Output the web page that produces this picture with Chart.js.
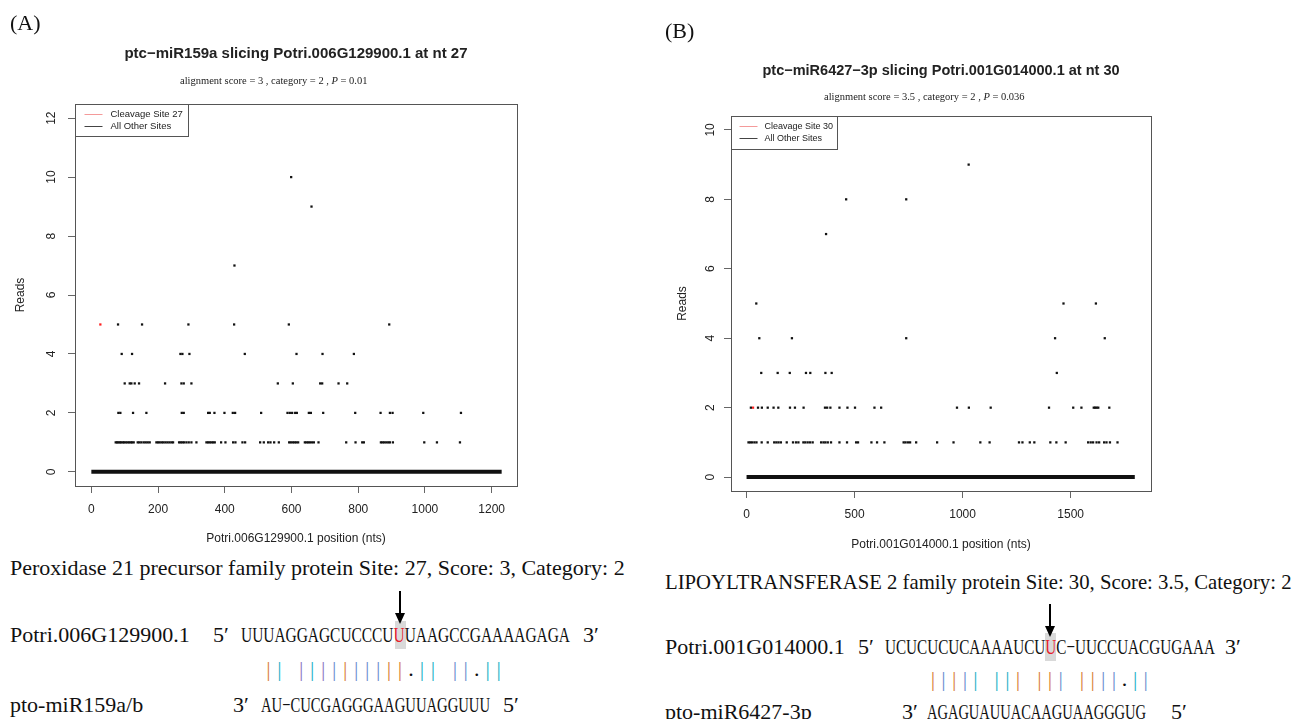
<!DOCTYPE html>
<html>
<head>
<meta charset="utf-8">
<script src="https://cdn.jsdelivr.net/npm/chart.js@4.4.0/dist/chart.umd.min.js"></script>
<style>
    body { margin: 0; background: #fff; }
    #page { position: relative; width: 1298px; height: 719px; overflow: hidden; color: #111;
            font-family: "Liberation Serif", "Times New Roman", serif; }
    .abs { position: absolute; white-space: nowrap; }
    canvas { position: absolute; }
    .ttl { font-family: "Liberation Sans", Arial, sans-serif; font-weight: bold; font-size: 15px; line-height: 16px; color: #222; }
    .sub { font-size: 10.5px; line-height: 12px; color: #222; }
    .big { font-size: 22px; line-height: 22px; }
    .seq { transform-origin: 0 50%; }
    .bar { font-size: 22px; line-height: 22px; transform: translateX(-50%); }
</style>
</head>
<body>
<div id="page">
    <canvas id="chartA" width="640" height="550" style="left:0;top:0"></canvas>
    <canvas id="chartB" width="648" height="556" style="left:650px;top:0"></canvas>

    <div class="abs big" style="left:10px;top:12px">(A)</div>
    <div class="abs ttl" id="titleA" style="top:45px">ptc−miR159a slicing Potri.006G129900.1 at nt 27</div>
    <div class="abs sub" style="left:180px;top:75px">alignment score = 3 , category = 2 , <i>P</i> = 0.01</div>

    <div class="abs big" style="left:665px;top:20px">(B)</div>
    <div class="abs ttl" id="titleB" style="top:62px;font-size:14.5px">ptc−miR6427−3p slicing Potri.001G014000.1 at nt 30</div>
    <div class="abs sub" style="left:824px;top:91px">alignment score = 3.5 , category = 2 , <i>P</i> = 0.036</div>

    <div id="alignA"></div>
    <div id="alignB"></div>
</div>

<script>
// ---- panel A: ptc-miR159a / Potri.006G129900.1 ----
const lenA = 1230;
const siteA = 27;
const siteReadsA = 5;
const aPos1 = [73, 77, 81, 85, 89, 94, 98, 103, 108, 113, 118, 122, 127, 139, 144, 150, 157, 163, 169, 175,
    195, 200, 205, 211, 216, 222, 228, 234, 240, 245, 263, 268, 273, 278, 285, 292, 300, 315,
    345, 350, 355, 360, 365, 370, 389, 402, 425, 432, 453, 461, 506, 517, 530, 537, 548, 562,
    593, 598, 604, 609, 614, 620, 640, 645, 650, 655, 661, 667, 681, 764, 792, 812, 817,
    868, 873, 878, 884, 890, 895, 904, 998, 1036, 1105];
const aPos2 = [81, 87, 125, 165, 271, 277, 350, 355, 369, 399, 424, 431, 509, 588, 595, 602, 611, 616,
    652, 658, 695, 791, 867, 895, 903, 995, 1108];
const aPos3 = [100, 115, 120, 130, 143, 221, 270, 277, 300, 559, 604, 686, 692, 741, 767];
const aPos4 = [91, 122, 267, 273, 294, 460, 615, 693, 787];
const aPos5 = [80, 152, 291, 428, 592, 893];
const aPos7 = [429];
const aPos9 = [660];
const aPos10 = [599];
const xTicksA = [0, 200, 400, 600, 800, 1000, 1200];
const yTicksA = [0, 2, 4, 6, 8, 10, 12];

// ---- panel B: ptc-miR6427-3p / Potri.001G014000.1 ----
const lenB = 1797;
const siteB = 30;
const siteReadsB = 2;
const bPos1 = [9, 17, 25, 36, 46, 70, 98, 128, 138, 148, 159, 186, 215, 229, 240, 263, 272, 283, 294, 306,
    345, 356, 365, 376, 391, 430, 465, 507, 516, 578, 604, 638, 727, 736, 747, 757, 785, 882, 958,
    1082, 1125, 1261, 1277, 1311, 1332, 1406, 1434, 1477, 1581, 1593, 1604, 1620, 1632, 1655, 1666, 1682, 1717];
const bPos2 = [20, 53, 71, 98, 125, 147, 201, 224, 264, 363, 373, 388, 430, 467, 502, 592, 623, 974, 1029,
    1130, 1400, 1512, 1550, 1607, 1614, 1620, 1628, 1679];
const bPos3 = [68, 144, 200, 275, 295, 365, 394, 1436];
const bPos4 = [59, 210, 739, 1428, 1658];
const bPos5 = [45, 1467, 1617];
const bPos7 = [368];
const bPos8 = [461, 739];
const bPos9 = [1028];
const xTicksB = [0, 500, 1000, 1500];
const yTicksB = [0, 2, 4, 6, 8, 10];

// ---- alignments ----
const targetA = 'UUUAGGAGCUCCCUUUAAGCCGAAAAGAGA';
const mirA = 'AU−CUCGAGGGAAGUUAGGUUU';
const pairsA = '|| ||||||||||.|| ||.||';
const pairStartA = 2;
const cutIdxA = 14;
const targetB = 'UCUCUCUCAAAAUCUUC−UUCCUACGUGAAA';
const mirB = 'AGAGUAUUACAAGUAAGGGUG';
const pairsB = '||||| ||| ||| ||||.||';
const pairStartB = 4;
const cutIdxB = 15;
const pairColors = { 'UA': '#d9823b', 'AU': '#29b3c8', 'GC': '#8e7cc3', 'CG': '#6d8fd0', 'UG': '#111', 'GU': '#111' };

function toPoints(list) {
    return list.flatMap(([reads, positions]) => positions.map(p => ({ x: p, y: reads })));
}

const framePlugin = {
    id: 'frame',
    afterDatasetsDraw(chart, args, opts) {
        const ctx = chart.ctx;
        const a = chart.chartArea;
        ctx.save();
        ctx.strokeStyle = '#555';
        ctx.lineWidth = 1;
        ctx.strokeRect(Math.round(a.left) + 0.5, Math.round(a.top) + 0.5, a.right - a.left, a.bottom - a.top);
        // legend box in the top-left corner
        const lg = opts.legend;
        const x0 = Math.round(a.left) + 0.5, y0 = Math.round(a.top) + 0.5;
        ctx.fillStyle = '#fff';
        ctx.fillRect(x0, y0, lg.w, lg.h);
        ctx.strokeRect(x0, y0, lg.w, lg.h);
        ctx.font = lg.font + ' "Liberation Sans", Arial, sans-serif';
        ctx.textBaseline = 'middle';
        lg.items.forEach((it, i) => {
            const y = y0 + lg.rows[i];
            ctx.strokeStyle = it.color;
            ctx.beginPath();
            ctx.moveTo(x0 + lg.line[0], y);
            ctx.lineTo(x0 + lg.line[1], y);
            ctx.stroke();
            ctx.fillStyle = '#222';
            ctx.fillText(it.text, x0 + lg.textX, y);
        });
        ctx.restore();
    }
};

function makeChart(id, c) {
    const axisFont = { family: '"Liberation Sans", Arial, sans-serif', size: 12 };
    return new Chart(document.getElementById(id), {
        type: 'scatter',
        data: {
            datasets: [
                {
                    type: 'line',
                    data: [{ x: 0, y: 0 }, { x: c.len, y: 0 }],
                    borderColor: '#111',
                    borderWidth: 4,
                    pointRadius: 0
                },
                {
                    data: c.points,
                    pointStyle: 'rect',
                    pointRadius: 1.6,
                    borderWidth: 0,
                    backgroundColor: '#111'
                },
                {
                    data: [{ x: c.site, y: c.siteReads }],
                    pointStyle: 'rect',
                    pointRadius: 1.6,
                    borderWidth: 0,
                    backgroundColor: '#ff2020'
                }
            ]
        },
        options: {
            responsive: false,
            animation: false,
            devicePixelRatio: 1,
            layout: { padding: c.padding },
            plugins: {
                legend: { display: false },
                tooltip: { enabled: false },
                frame: { legend: c.legend }
            },
            scales: {
                x: {
                    type: 'linear',
                    min: c.xMin,
                    max: c.xMax,
                    afterBuildTicks: s => { s.ticks = c.xTicks.map(v => ({ value: v })); },
                    afterFit: s => { s.height = c.xHeight; },
                    grid: { drawOnChartArea: false, tickLength: 7, color: '#666' },
                    border: { display: false },
                    ticks: { font: axisFont, color: '#222', padding: 9, maxRotation: 0, callback: v => String(v) },
                    title: { display: true, text: c.xTitle, font: axisFont, color: '#222', padding: { top: 4, bottom: 4 } }
                },
                y: {
                    type: 'linear',
                    min: c.yMin,
                    max: c.yMax,
                    afterBuildTicks: s => { s.ticks = c.yTicks.map(v => ({ value: v })); },
                    afterFit: s => { s.width = c.yWidth; },
                    grid: { drawOnChartArea: false, tickLength: 7, color: '#666' },
                    border: { display: false },
                    ticks: { font: axisFont, color: '#222', padding: c.yPad, minRotation: 90, maxRotation: 90, crossAlign: 'center', callback: v => String(v) },
                    title: { display: true, text: 'Reads', font: axisFont, color: '#222', padding: { top: c.yTitlePad, bottom: 0 } }
                }
            }
        },
        plugins: [framePlugin]
    });
}

makeChart('chartA', {
    len: lenA, site: siteA, siteReads: siteReadsA,
    points: toPoints([[1, aPos1], [2, aPos2], [3, aPos3], [4, aPos4], [5, aPos5], [7, aPos7], [9, aPos9], [10, aPos10]]),
    xMin: -49, xMax: 1276, yMin: -0.48, yMax: 12.48,
    xTicks: xTicksA, yTicks: yTicksA,
    xTitle: 'Potri.006G129900.1 position (nts)',
    padding: { top: 104, right: 123, left: 0, bottom: 0 },
    xHeight: 64, yWidth: 75, yPad: 10, yTitlePad: 13,
    legend: {
        w: 113, h: 32, rows: [10, 22], line: [9, 27], textX: 35, font: '9.5px',
        items: [{ text: 'Cleavage Site ' + siteA, color: '#f49a9a' }, { text: 'All Other Sites', color: '#444' }]
    }
});

makeChart('chartB', {
    len: lenB, site: siteB, siteReads: siteReadsB,
    points: toPoints([[1, bPos1], [2, bPos2], [3, bPos3], [4, bPos4], [5, bPos5], [7, bPos7], [8, bPos8], [9, bPos9]]),
    xMin: -72, xMax: 1872, yMin: -0.4, yMax: 10.4,
    xTicks: xTicksB, yTicks: yTicksB,
    xTitle: 'Potri.001G014000.1 position (nts)',
    padding: { top: 116, right: 147, left: 0, bottom: 0 },
    xHeight: 65, yWidth: 81, yPad: 7, yTitlePad: 25,
    legend: {
        w: 106, h: 33, rows: [10, 22], line: [8, 26], textX: 33, font: '9px',
        items: [{ text: 'Cleavage Site ' + siteB, color: '#f49a9a' }, { text: 'All Other Sites', color: '#444' }]
    }
});

// centre the titles over the plot boxes
function centreAt(id, cx) {
    const el = document.getElementById(id);
    el.style.left = (cx - el.getBoundingClientRect().width / 2) + 'px';
}
centreAt('titleA', 296);
centreAt('titleB', 941);

function addText(box, html, left, cy, cls) {
    const el = document.createElement('div');
    el.className = 'abs ' + (cls || 'big');
    el.innerHTML = html;
    el.style.left = left + 'px';
    el.style.top = (cy - 11) + 'px';
    box.appendChild(el);
    return el;
}

function fitSeq(el, width) {
    const nat = el.getBoundingClientRect().width;
    el.style.transform = 'scaleX(' + (width / nat) + ')';
}

function fitFont(el, width) {
    const nat = el.getBoundingClientRect().width;
    if (nat > width) el.style.fontSize = (22 * width / nat) + 'px';
}

function drawAlignment(boxId, g) {
    const box = document.getElementById(boxId);
    fitFont(addText(box, g.heading, g.x0, g.yHead), g.headW);

    // cleavage highlight and arrow
    const cell = g.tW / g.target.length;
    const hl = document.createElement('div');
    hl.className = 'abs';
    hl.style.cssText += `left:${g.tL + g.cut * cell}px;top:${g.yT - 14}px;width:${cell + 1}px;height:28px;background:#d9d9d9`;
    box.appendChild(hl);
    const ax = g.tL + (g.cut + 0.5) * cell;
    const svgNS = 'http://www.w3.org/2000/svg';
    const svg = document.createElementNS(svgNS, 'svg');
    svg.setAttribute('width', 20);
    svg.setAttribute('height', 40);
    svg.style.cssText = `position:absolute;left:${ax - 10}px;top:${g.yArrow}px`;
    svg.innerHTML = `<line x1="10" y1="0" x2="10" y2="${g.arrowLen - 8}" stroke="#000" stroke-width="2"/>` +
        `<polygon points="5,${g.arrowLen - 11} 15,${g.arrowLen - 11} 10,${g.arrowLen}" fill="#000"/>`;
    box.appendChild(svg);

    addText(box, g.tName, g.x0, g.yT);
    addText(box, '5′', g.t5, g.yT);
    const t = g.target;
    const tHtml = t.slice(0, g.cut) + '<span style="color:#e8202a">' + t[g.cut] + '</span>' + t.slice(g.cut + 1);
    fitSeq(addText(box, tHtml, g.tL, g.yT, 'big seq'), g.tW);
    addText(box, '3′', g.t3, g.yT);

    // pairing marks under each paired base
    for (let i = 0; i < g.pairs.length; i++) {
        const ch = g.pairs[i];
        if (ch === ' ') continue;
        const ti = g.pStart + i;
        const key = t[ti] + g.mir[i];
        const col = ch === '.' ? '#111' : (pairColors[key] || '#777');
        const el = addText(box, ch, g.tL + (ti + 0.5) * cell, g.yBar, 'bar');
        el.style.color = col;
    }

    addText(box, g.mName, g.x0, g.yM);
    addText(box, '3′', g.m3, g.yM);
    fitSeq(addText(box, g.mir, g.mL, g.yM, 'big seq'), g.mW);
    addText(box, '5′', g.m5, g.yM);
}

drawAlignment('alignA', {
    heading: 'Peroxidase 21 precursor family protein Site: 27, Score: 3, Category: 2',
    x0: 10, yHead: 568, headW: 616, yT: 635, yBar: 669, yM: 705, yArrow: 591, arrowLen: 33,
    tName: 'Potri.006G129900.1', t5: 213, tL: 241, tW: 329, t3: 583,
    mName: 'pto-miR159a/b', m3: 233, mL: 261, mW: 229, m5: 503,
    target: targetA, mir: mirA, pairs: pairsA, pStart: pairStartA, cut: cutIdxA
});

drawAlignment('alignB', {
    heading: 'LIPOYLTRANSFERASE 2 family protein Site: 30, Score: 3.5, Category: 2',
    x0: 665, yHead: 582, headW: 627, yT: 647, yBar: 679, yM: 712, yArrow: 604, arrowLen: 33,
    tName: 'Potri.001G014000.1', t5: 858, tL: 885, tW: 330, t3: 1225,
    mName: 'pto-miR6427-3p', m3: 902, mL: 927, mW: 219, m5: 1171,
    target: targetB, mir: mirB, pairs: pairsB, pStart: pairStartB, cut: cutIdxB
});
</script>
</body>
</html>
